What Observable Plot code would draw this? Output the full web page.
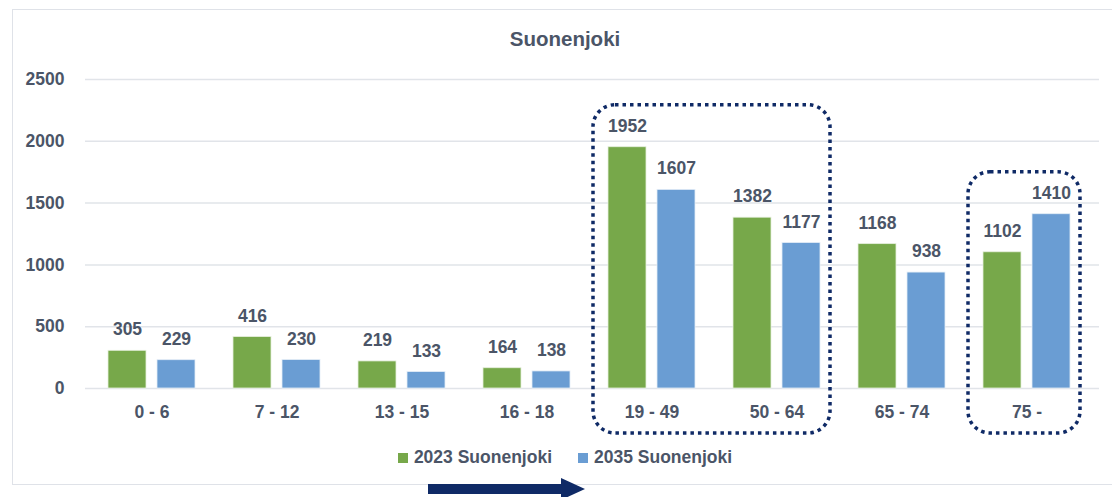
<!DOCTYPE html>
<html>
<head>
<meta charset="utf-8">
<script src="https://cdn.jsdelivr.net/npm/d3@7"></script>
<script src="https://cdn.jsdelivr.net/npm/@observablehq/plot@0.6"></script>
<style>
  html, body { margin: 0; padding: 0; background: #ffffff; }
  #wrap { position: relative; width: 1112px; height: 497px; overflow: hidden; background: #fff;
          font-family: "Liberation Sans", Arial, sans-serif; font-weight: bold; color: #4b5567; }
  #frame { position: absolute; left: 12px; top: 9px; width: 1120px; height: 476px;
           border: 1.5px solid #dfe2e8; box-sizing: border-box; }
  #title { position: absolute; left: 0; width: 1130px; top: 27px; text-align: center; font-size: 20.5px; }
  #chart { position: absolute; left: 0; top: 0; }
  #legend { position: absolute; top: 447px; left: 0; width: 1130px; display: flex; justify-content: center;
            gap: 26px; font-size: 17.5px; }
  #legend .item { display: flex; align-items: center; gap: 6px; }
  #legend .sw { width: 10px; height: 10px; display: inline-block; }
  #arrow { position: absolute; left: 428px; top: 477px; }
</style>
</head>
<body>
<div id="wrap">
  <div id="frame"></div>
  <div id="chart"></div>
  <div id="title">Suonenjoki</div>
  <div id="legend"></div>
  <svg id="arrow" width="160" height="22" viewBox="0 0 160 22">
    <rect x="0" y="7" width="137" height="10" fill="#0f2a66"></rect>
    <polygon points="133,1 157,12 133,23" fill="#0f2a66"></polygon>
  </svg>
</div>
<script>
const categories = ["0 - 6", "7 - 12", "13 - 15", "16 - 18", "19 - 49", "50 - 64", "65 - 74", "75 -"];
const seriesNames = ["2023 Suonenjoki", "2035 Suonenjoki"];
const values2023 = [305, 416, 219, 164, 1952, 1382, 1168, 1102];
const values2035 = [229, 230, 133, 138, 1607, 1177, 938, 1410];
const yTicks = [0, 500, 1000, 1500, 2000, 2500];
const highlightGroups = [["19 - 49", "50 - 64"], ["75 -"]];
const colors = ["#77a84a", "#6a9dd3"];

const data = [];
categories.forEach((c, i) => {
  data.push({cat: c, series: seriesNames[0], value: values2023[i]});
  data.push({cat: c, series: seriesNames[1], value: values2035[i]});
});
const d23 = data.filter(d => d.series === seriesNames[0]);
const d35 = data.filter(d => d.series === seriesNames[1]);

const textColor = "#4b5567";

const plot = Plot.plot({
  width: 1112,
  height: 497,
  marginLeft: 85,
  marginRight: 13,
  marginTop: 79,
  marginBottom: 109,
  style: {fontFamily: "'Liberation Sans', Arial, sans-serif", fontSize: "17.5px", fontWeight: "bold", color: textColor, background: "transparent", overflow: "visible"},
  x: {domain: categories, range: [85, 1092], padding: 0, label: null, tickSize: 0, tickPadding: 17},
  y: {domain: [0, 2500], ticks: yTicks, tickFormat: d => String(d), label: null, tickSize: 0, tickPadding: 21},
  color: {domain: seriesNames, range: colors},
  marks: [
    Plot.ruleY(yTicks, {stroke: "#e1e4e9", strokeWidth: 1.5}),
    Plot.barY(d23, {x: "cat", y: "value", fill: colors[0], stroke: "#e6efdd", strokeWidth: 0.8, insetLeft: 19, insetRight: 68}),
    Plot.barY(d35, {x: "cat", y: "value", fill: colors[1], stroke: "#e4edf7", strokeWidth: 0.8, insetLeft: 68, insetRight: 19}),
    Plot.text(d23, {x: "cat", y: "value", text: d => String(d.value), dx: -24.5, dy: -21, fill: textColor}),
    Plot.text(d35, {x: "cat", y: "value", text: d => String(d.value), dx: 24.5, dy: -21, fill: textColor})
  ]
});
document.getElementById("chart").appendChild(plot);

// dotted highlight boxes positioned through the plot's own scales
const sx = plot.scale("x");
const sy = plot.scale("y");
const bw = sx.bandwidth;
const svg = d3.select(plot);
highlightGroups.forEach(g => {
  const x0 = sx.apply(g[0]) + 4;
  const x1 = sx.apply(g[g.length - 1]) + bw - 9;
  const maxV = d3.max(data.filter(d => g.includes(d.cat)), d => d.value);
  const y0 = sy.apply(maxV) - 42;
  const y1 = sy.apply(0) + 45;
  svg.append("rect")
    .attr("x", x0).attr("y", y0)
    .attr("width", x1 - x0).attr("height", y1 - y0)
    .attr("rx", 22).attr("ry", 22)
    .attr("fill", "none")
    .attr("stroke", "#0f2a66")
    .attr("stroke-width", 3.5)
    .attr("stroke-dasharray", "3.5 4");
});

// legend
const legend = d3.select("#legend");
seriesNames.forEach((s, i) => {
  const it = legend.append("div").attr("class", "item");
  it.append("span").attr("class", "sw").style("background", colors[i]);
  it.append("span").text(s);
});
</script>
</body>
</html>
